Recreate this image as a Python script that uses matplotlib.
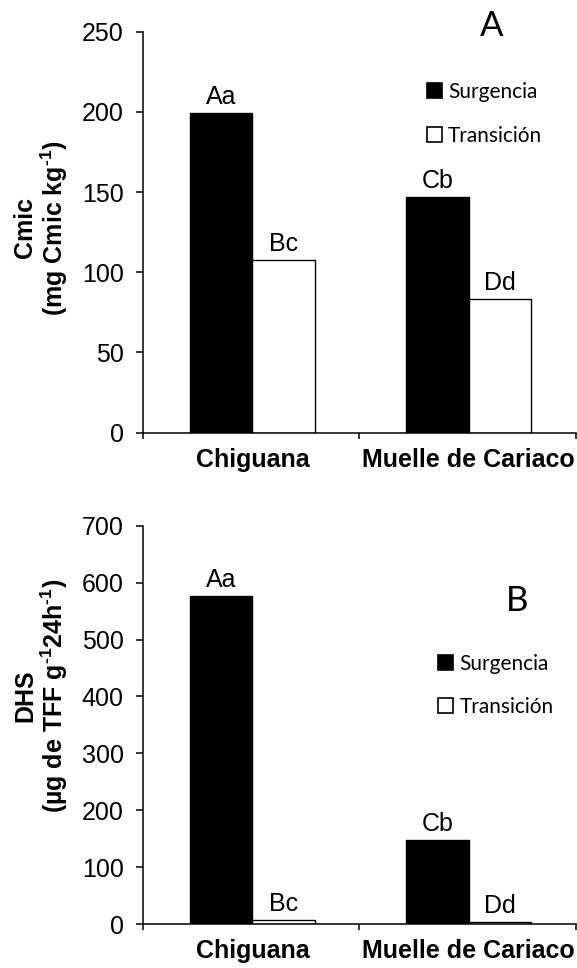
import matplotlib
matplotlib.use("Agg")
import matplotlib.pyplot as plt
import numpy as np

plt.rcParams['font.family'] = ['Liberation Sans', 'DejaVu Sans']
plt.rcParams['mathtext.fontset'] = 'custom'
plt.rcParams['mathtext.rm'] = 'Liberation Sans'
plt.rcParams['mathtext.bf'] = 'Liberation Sans:bold'
plt.rcParams['mathtext.default'] = 'regular'

sites = ["Chiguana", "Muelle de Cariaco"]
series = ["Surgencia", "Transición"]

# panel A: microbial carbon
cmic_surg = [199.5, 147.1]
cmic_trans = [107.4, 83.3]
cmic_letters_surg = ["Aa", "Cb"]
cmic_letters_trans = ["Bc", "Dd"]

# panel B: dehydrogenase activity
dhs_surg = [577, 147]
dhs_trans = [7, 3]
dhs_letters_surg = ["Aa", "Cb"]
dhs_letters_trans = ["Bc", "Dd"]

FS = 18
W = 0.29

fig = plt.figure(figsize=(5.77, 9.68), dpi=100)
axA = fig.add_axes([143.3 / 577, 1 - 432.7 / 968, 432.2 / 577, 401 / 968])
axB = fig.add_axes([143.3 / 577, 1 - 924 / 968, 432.2 / 577, 398.3 / 968])


def panel(ax, surg, trans, lsurg, ltrans, ymax, ystep, letter, letter_xy, leg_xy, rowsp):
    x = np.arange(len(sites)) + 0.505
    b1 = ax.bar(x - W / 2, surg, W, color='black', edgecolor='black', linewidth=1.0,
                label=series[0])
    b2 = ax.bar(x + W / 2, trans, W, color='white', edgecolor='black', linewidth=1.0,
                label=series[1])
    for bars, labs in ((b1, lsurg), (b2, ltrans)):
        for r, t in zip(bars, labs):
            ax.annotate(t, (r.get_x() + r.get_width() / 2, r.get_height()),
                        xytext=(0, 6.5), textcoords='offset points',
                        ha='center', va='baseline', fontsize=FS)
    ax.set_xlim(0, 2)
    ax.set_ylim(0, ymax)
    ax.set_yticks(np.arange(0, ymax + 1, ystep))
    ax.set_xticks([0, 1, 2])
    ax.set_xticklabels([])
    ax.set_xticks(x, minor=True)
    ax.set_xticklabels(sites, minor=True, fontsize=FS, fontweight='bold')
    ax.tick_params(axis='x', which='major', direction='out', length=4.5, width=1.1)
    ax.tick_params(axis='x', which='minor', length=0, pad=11)
    ax.tick_params(axis='y', direction='out', length=5, width=1.1, pad=9, labelsize=FS)
    for s in ('top', 'right'):
        ax.spines[s].set_visible(False)
    for s in ('left', 'bottom'):
        ax.spines[s].set_linewidth(1.1)
    ax.text(*letter_xy, letter, transform=fig.transFigure, ha='center', va='center',
            fontsize=25, family=['Lato', 'DejaVu Sans'])
    leg = ax.legend(loc='upper left', bbox_to_anchor=leg_xy, bbox_transform=fig.transFigure,
                    frameon=False, borderpad=0, borderaxespad=0, handlelength=0.72,
                    handleheight=0.72, handletextpad=0.3, labelspacing=rowsp,
                    prop={'family': ['Lato', 'DejaVu Sans'], 'size': 15})
    for h in leg.legend_handles:
        h.set_linewidth(1.2)


panel(axA, cmic_surg, cmic_trans, cmic_letters_surg, cmic_letters_trans, 250, 50, "A",
      (492 / 577, 1 - 26 / 968), (427 / 577, 1 - 82 / 968), 1.15)
panel(axB, dhs_surg, dhs_trans, dhs_letters_surg, dhs_letters_trans, 700, 100, "B",
      (517 / 577, 1 - 601 / 968), (438 / 577, 1 - 654 / 968), 1.1)

fig.text(25 / 577, 1 - 228 / 968, "Cmic", rotation=90, ha='center', va='center',
         fontsize=FS, fontweight='bold')
fig.text(54 / 577, 1 - 228 / 968, "(mg Cmic kg$^{\u20101}$)", rotation=90, ha='center',
         va='center', fontsize=FS, fontweight='bold')
fig.text(25 / 577, 1 - 696 / 968, "DHS", rotation=90, ha='center', va='center',
         fontsize=FS, fontweight='bold')
fig.text(54 / 577, 1 - 696 / 968, "(µg de TFF g$^{\u20101}$24h$^{\u20101}$)", rotation=90,
         ha='center', va='center', fontsize=FS, fontweight='bold')

fig.savefig("out.png", dpi=100)
